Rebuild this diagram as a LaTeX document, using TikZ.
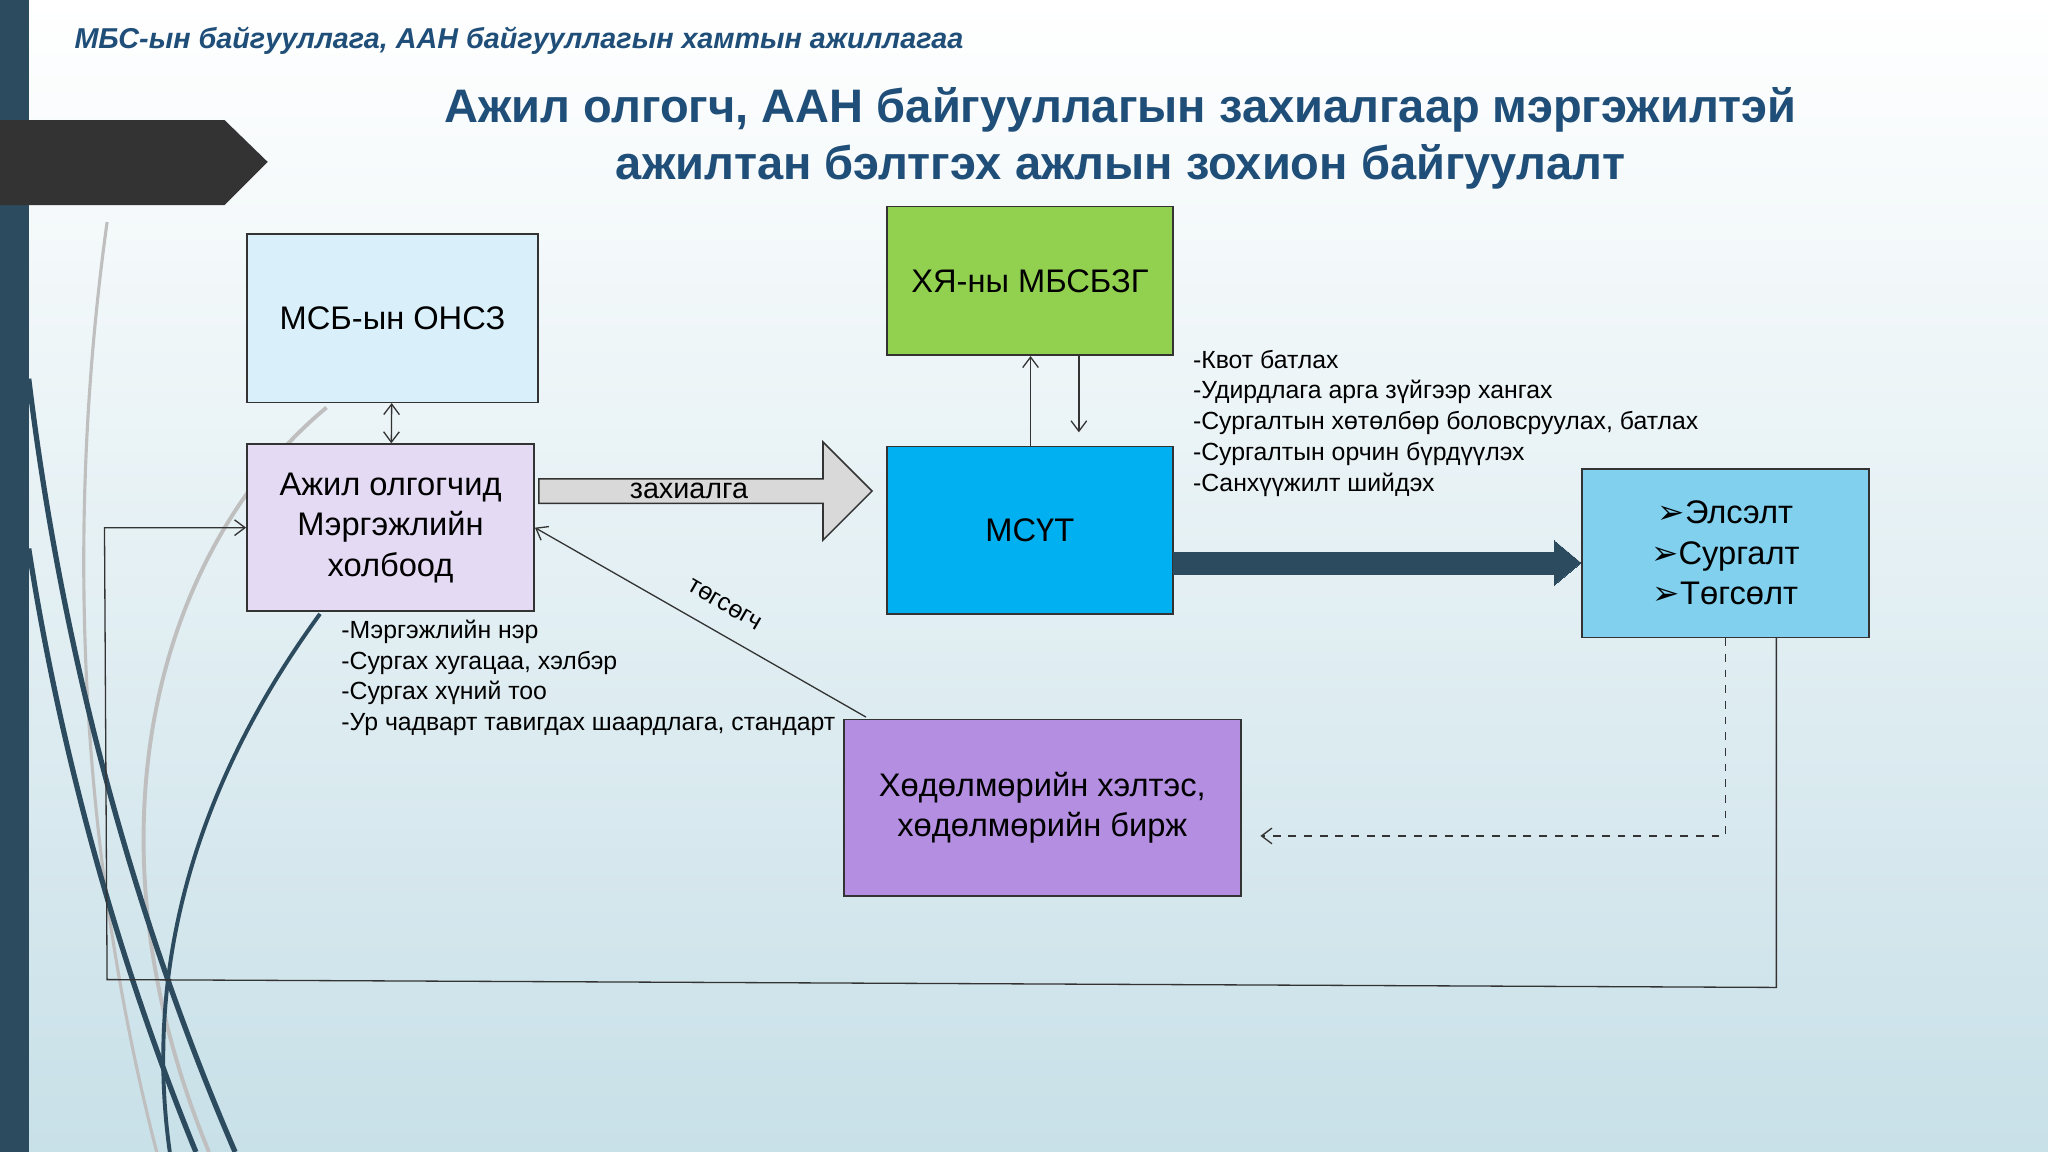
\documentclass[tikz,border=0pt]{standalone}
\usepackage{fontspec}
\setmainfont{Liberation Sans}
\newfontfamily\djv{DejaVu Sans}
\usetikzlibrary{arrows.meta,shapes.arrows}
\definecolor{ttl}{HTML}{1F4E79}
\definecolor{bar}{HTML}{2C4B5E}
\begin{document}
\begin{tikzpicture}[x=0.5pt,y=-0.5pt,
 box/.style={draw=black!80,line width=0.6pt,inner sep=0pt,align=center,font=\fontsize{12.5}{15.5}\selectfont},
 lst/.style={anchor=west,align=left,font=\fontsize{9.5}{11.8}\selectfont,inner sep=0pt},
 con/.style={line width=0.5pt,draw=black!80},
 arr/.style={con,-{Straight Barb[length=4pt,width=6pt]}}]
\useasboundingbox (0,0) rectangle (1568,882);
\shade[top color=white,bottom color={rgb,255:red,200;green,224;blue,232}] (0,0) rectangle (1568,882);
\fill[bar] (0,0) rectangle (22,882);
\fill[black!80] (0,92) -- (172,92) -- (205,124) -- (172,157) -- (0,157) -- cycle;
% decorative curves
\draw[black!25,line width=1.5pt] (250,312) .. controls (120,420) and (60,640) .. (160,882);
\draw[black!25,line width=1.2pt] (82,170) .. controls (50,400) and (60,650) .. (120,882);
\draw[bar,line width=2pt] (22,290) .. controls (50,520) and (110,720) .. (180,882);
\draw[bar,line width=2pt] (22,420) .. controls (50,600) and (100,760) .. (150,882);
\draw[bar,line width=1.5pt] (245,470) .. controls (150,600) and (110,740) .. (130,882);
% header
\node[anchor=west,text=ttl,font=\fontsize{11}{12}\selectfont\bfseries\itshape] (hd) at (50,31) {МБС-ын байгууллага, ААН байгууллагын хамтын ажиллагаа};
\node[text=ttl,align=center,font=\fontsize{18}{22}\selectfont\bfseries] (tt) at (858,106) {Ажил олгогч, ААН байгууллагын захиалгаар мэргэжилтэй\\ажилтан бэлтгэх ажлын зохион байгуулалт};
% boxes
\node[box,fill={rgb,255:red,217;green,240;blue,250},minimum width=111.5pt,minimum height=64.5pt] (msb) at (300.5,243.5) {МСБ-ын ОНСЗ};
\node[box,fill={rgb,255:red,228;green,218;blue,244},minimum width=110pt,minimum height=64pt] (ajil) at (299,404) {Ажил олгогчид\\Мэргэжлийн\\холбоод};
\node[box,fill={rgb,255:red,146;green,208;blue,80},minimum width=109.5pt,minimum height=57pt] (hya) at (788.5,215) {ХЯ-ны МБСБЗГ};
\node[box,fill={rgb,255:red,0;green,176;blue,240},minimum width=109.5pt,minimum height=64pt] (msut) at (788.5,406) {МСҮТ};
\node[box,fill={rgb,255:red,128;green,208;blue,238},minimum width=110pt,minimum height=64.5pt] (els) at (1321,423.5) {{\djv➢}Элсэлт\\{\djv➢}Сургалт\\{\djv➢}Төгсөлт};
\node[box,fill={rgb,255:red,180;green,142;blue,224},minimum width=152pt,minimum height=67.5pt] (hud) at (798,618.5) {Хөдөлмөрийн хэлтэс,\\хөдөлмөрийн бирж};
% big arrows
\node[single arrow,draw=black!80,line width=0.6pt,fill=black!15,minimum height=127.5pt,minimum width=37.5pt,single arrow head extend=10pt,single arrow tip angle=90,inner sep=0pt,anchor=west,font=\fontsize{11}{13}\selectfont] (zah) at (412,376) {\hspace*{-8pt}захиалга};
\draw[bar,line width=0pt,fill=bar] (msut.east |- 0,423) -- (1190,423) -- (1190,414) -- (els.west |- 0,431) -- (1190,448) -- (1190,440) -- (msut.east |- 0,440) -- cycle;
% connectors
\draw[con,{Straight Barb[length=4pt,width=6pt]}-{Straight Barb[length=4pt,width=6pt]}] (msb) -- (ajil);
\draw[arr] (msut.north -| 789,0) -- (hya.south -| 789,0);
\coordinate (hd1) at (826,331);
\draw[arr] (hya.south -| 826,0) -- (hd1);
\coordinate (tg) at (663,549);
\draw[arr] (tg) -- (ajil.east |- 0,404);
\node[rotate=-30,font=\fontsize{9.5}{11}\selectfont,inner sep=0pt] (tgl) at (555,463) {төгсөгч};
\coordinate (d1) at (1321,640);
\coordinate (d2) at (965,640);
\draw[arr,dashed] (els.south -| 1321,0) -- (d1) -- (d2);
\coordinate (s1) at (1360,756);
\coordinate (s2) at (82,750);
\coordinate (s3) at (80,404);
\draw[arr] (els.south -| 1360,0) -- (s1) -- (s2) -- (s3) -- (ajil.west |- 0,404);
% lists
\node[lst] (l1) at (913,324) {-Квот батлах\\-Удирдлага арга зүйгээр хангах\\-Сургалтын хөтөлбөр боловсруулах, батлах\\-Сургалтын орчин бүрдүүлэх\\-Санхүүжилт шийдэх};
\node[lst] (l2) at (261,519) {-Мэргэжлийн нэр\\-Сургах хугацаа, хэлбэр\\-Сургах хүний тоо\\-Ур чадварт тавигдах шаардлага, стандарт};
\end{tikzpicture}
\end{document}
